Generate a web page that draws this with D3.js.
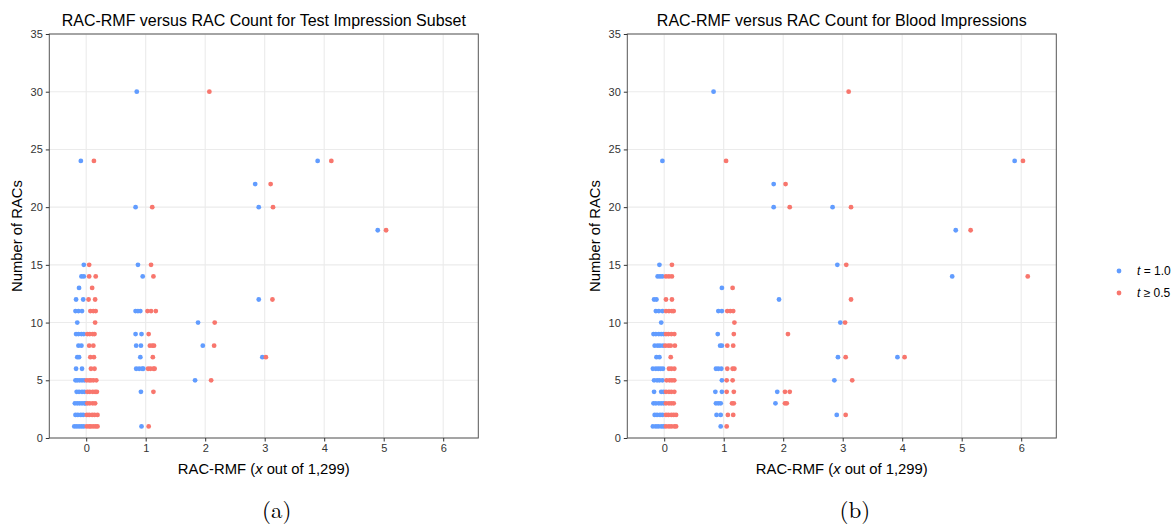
<!DOCTYPE html>
<html>
<head>
<meta charset="utf-8">
<script src="https://cdn.jsdelivr.net/npm/d3@7"></script>
<style>
  body { margin: 0; background: #fff; }
  text { font-family: "Liberation Sans", Arial, sans-serif; }
</style>
</head>
<body>
<div id="figure"></div>
<script>
// rows: [number of RACs, [RAC-RMF positions as drawn]]
const testT10 = [
  [30, [0.85]], [24, [-0.09, 3.89]], [22, [2.84]], [20, [0.83, 2.90]], [18, [4.90]],
  [15, [-0.04, 0.87]], [14, [-0.08, -0.04, 0.95]], [13, [-0.12]],
  [12, [-0.17, -0.05, 2.90]], [11, [-0.18, -0.13, -0.07, 0.83, 0.87, 0.91]],
  [10, [-0.15, 1.88]], [9, [-0.17, -0.13, -0.08, -0.04, 0.83, 0.93]],
  [8, [-0.13, -0.08, 0.84, 0.92, 1.96]], [7, [-0.15, -0.12, 0.91, 2.96]],
  [6, [-0.17, -0.07, 0.84, 0.89, 0.94, 0.96]], [5, [-0.18, -0.15, -0.11, -0.07, -0.03, 1.83]],
  [4, [-0.16, -0.12, -0.07, -0.03, 0.92]], [3, [-0.19, -0.15, -0.11, -0.07, -0.03, -0.01]],
  [2, [-0.18, -0.14, -0.09, -0.05]], [1, [-0.20, -0.16, -0.12, -0.08, -0.04, 0.93]]
];
const testT05 = [
  [30, [2.07]], [24, [0.13, 4.12]], [22, [3.10]], [20, [1.11, 3.14]], [18, [5.04]],
  [15, [0.05, 1.09]], [14, [0.05, 0.16, 1.13]], [13, [0.10]],
  [12, [0.04, 0.15, 3.13]], [11, [0.07, 0.12, 0.16, 1.03, 1.09, 1.17]],
  [10, [0.15, 2.16]], [9, [0.02, 0.06, 0.11, 0.14, 1.05]],
  [8, [0.05, 0.12, 1.07, 1.11, 1.14, 2.15]], [7, [0.07, 0.13, 1.12, 3.02]],
  [6, [0.08, 0.14, 1.04, 1.08, 1.13, 1.15]], [5, [0.01, 0.05, 0.08, 0.12, 0.17, 2.10]],
  [4, [0.02, 0.06, 0.11, 0.15, 0.18, 1.13]], [3, [0.02, 0.06, 0.11, 0.15]],
  [2, [0.01, 0.05, 0.10, 0.14, 0.19]], [1, [0.01, 0.05, 0.08, 0.12, 0.16, 0.19, 1.05]]
];
const bloodT10 = [
  [30, [0.83]], [24, [-0.03, 5.89]], [22, [1.84]], [20, [1.84, 2.83]], [18, [4.90]],
  [15, [-0.08, 2.91]], [14, [-0.11, -0.07, -0.03, 4.84]], [13, [0.97]],
  [12, [-0.17, -0.13, 1.93]], [11, [-0.14, -0.09, -0.03, 0.91, 0.97]],
  [10, [-0.05, 2.96]], [9, [-0.18, -0.14, -0.09, -0.05, -0.01, 0.90]],
  [8, [-0.16, -0.11, -0.07, -0.02, 0.94, 0.97]], [7, [-0.13, -0.08, 2.92, 3.92]],
  [6, [-0.19, -0.14, -0.10, -0.06, -0.02, 0.87, 0.91, 0.96]],
  [5, [-0.17, -0.12, -0.08, -0.03, 0.97, 2.86]],
  [4, [-0.17, -0.05, -0.01, 0.86, 0.97, 1.90]],
  [3, [-0.18, -0.14, -0.09, -0.05, -0.01, 0.87, 0.91, 0.95, 1.87]],
  [2, [-0.16, -0.12, -0.07, -0.03, 0.88, 0.95, 2.90]],
  [1, [-0.19, -0.14, -0.10, -0.05, -0.01, 0.95]]
];
const bloodT05 = [
  [30, [3.10]], [24, [1.04, 6.03]], [22, [2.04]], [20, [2.11, 3.14]], [18, [5.15]],
  [15, [0.13, 3.06]], [14, [0.03, 0.08, 0.13, 6.11]], [13, [1.15]],
  [12, [0.03, 0.13, 3.14]], [11, [0.03, 0.08, 0.13, 0.16, 1.06, 1.11, 1.16]],
  [10, [1.18, 3.04]], [9, [0.03, 0.07, 0.12, 0.17, 1.17, 2.08]],
  [8, [0.02, 0.07, 0.11, 0.18, 1.06, 1.16]], [7, [0.11, 3.05, 4.04]],
  [6, [0.08, 0.12, 0.17, 1.06, 1.15, 1.18]], [5, [0.04, 0.09, 0.13, 0.17, 1.05, 1.15, 3.16]],
  [4, [0.03, 0.08, 0.12, 0.17, 1.05, 1.17, 2.03, 2.11]],
  [3, [0.03, 0.08, 0.12, 0.16, 1.14, 1.17, 2.03, 2.06]],
  [2, [0.03, 0.07, 0.12, 0.16, 0.20, 1.07, 1.16, 3.05]],
  [1, [0.03, 0.08, 0.12, 0.17, 0.20, 1.05]]
];
const xTicks = [0, 1, 2, 3, 4, 5, 6];
const yTicks = [0, 5, 10, 15, 20, 25, 30, 35];
const seriesNames = ["t10", "t05"];

const width = 1172, height = 527;
const colors = { t10: "#619CFF", t05: "#F8766D" };

const svg = d3.select("#figure").append("svg")
  .attr("width", width)
  .attr("height", height);

const pw = 429, ph = 404, panelTop = 34;

const x = d3.scaleLinear().domain([-0.62, 6.59]).range([0, pw]);
const y = d3.scaleLinear().domain([0, 35]).range([ph, 0]);

function flat(rows) {
  return rows.flatMap(r => r[1].map(v => ({ x: v, y: r[0] })));
}

function drawPanel(left, title, blue, red, tag) {
  const g = svg.append("g").attr("transform", `translate(${left},${panelTop})`);

  // grid
  g.append("g").selectAll("line").data(yTicks).enter().append("line")
    .attr("x1", 0).attr("x2", pw)
    .attr("y1", d => y(d)).attr("y2", d => y(d))
    .attr("stroke", "#ebebeb").attr("stroke-width", 1.1);
  g.append("g").selectAll("line").data(xTicks).enter().append("line")
    .attr("y1", 0).attr("y2", ph)
    .attr("x1", d => x(d)).attr("x2", d => x(d))
    .attr("stroke", "#ebebeb").attr("stroke-width", 1.1);

  // points
  const pts = g.append("g");
  [[flat(blue), colors.t10], [flat(red), colors.t05]].forEach(([data, c]) => {
    pts.append("g").selectAll("circle").data(data).enter().append("circle")
      .attr("cx", d => x(d.x)).attr("cy", d => y(d.y))
      .attr("r", 2.4).attr("fill", c);
  });

  // border
  g.append("rect").attr("width", pw).attr("height", ph)
    .attr("fill", "none").attr("stroke", "#555").attr("stroke-width", 1);

  // axes
  const xa = g.append("g").attr("transform", `translate(0,${ph})`)
    .call(d3.axisBottom(x).tickValues(xTicks).tickSize(3.5).tickPadding(3).tickFormat(d3.format("d")));
  const ya = g.append("g")
    .call(d3.axisLeft(y).tickValues(yTicks).tickSize(3.5).tickPadding(3).tickFormat(d3.format("d")));
  [xa, ya].forEach(a => {
    a.select(".domain").remove();
    a.selectAll(".tick line").attr("stroke", "#333");
    a.selectAll(".tick text").attr("fill", "#333").style("font-size", "11px")
      .style("font-family", "'Liberation Sans', Arial, sans-serif");
  });

  g.append("text").attr("x", pw / 2).attr("y", -8)
    .attr("text-anchor", "middle").style("font-size", "16px").attr("fill", "#000")
    .text(title);

  const xl = g.append("text").attr("x", pw / 2).attr("y", ph + 36)
    .attr("text-anchor", "middle").style("font-size", "14.8px").attr("fill", "#000");
  xl.append("tspan").text("RAC-RMF (");
  xl.append("tspan").style("font-style", "italic").text("x");
  xl.append("tspan").text(" out of 1,299)");

  g.append("text")
    .attr("transform", `translate(${-27},${ph / 2}) rotate(-90)`)
    .attr("text-anchor", "middle").style("font-size", "14.8px").attr("fill", "#000")
    .text("Number of RACs");

  svg.append("text").attr("x", left + pw / 2 + 13).attr("y", 518)
    .attr("text-anchor", "middle")
    .style("font-family", "'Latin Modern Roman', 'DejaVu Serif', 'Liberation Serif', serif")
    .style("font-size", "23px").attr("fill", "#000")
    .text(tag);
}

drawPanel(49.3, "RAC-RMF versus RAC Count for Test Impression Subset", testT10, testT05, "(a)");
drawPanel(627.3, "RAC-RMF versus RAC Count for Blood Impressions", bloodT10, bloodT05, "(b)");

// legend
const legend = svg.append("g").attr("transform", "translate(1119,271)");
const labels = { t10: [" = 1.0"], t05: [" \u2265 0.5"] };
seriesNames.forEach((s, i) => {
  const row = legend.append("g").attr("transform", `translate(0,${i * 22})`);
  row.append("circle").attr("r", 2.4).attr("fill", colors[s]);
  const t = row.append("text").attr("x", 18).attr("y", 4.2)
    .style("font-size", "12px").attr("fill", "#000");
  t.append("tspan").style("font-style", "italic").text("t");
  t.append("tspan").text(labels[s][0]);
});
</script>
</body>
</html>
